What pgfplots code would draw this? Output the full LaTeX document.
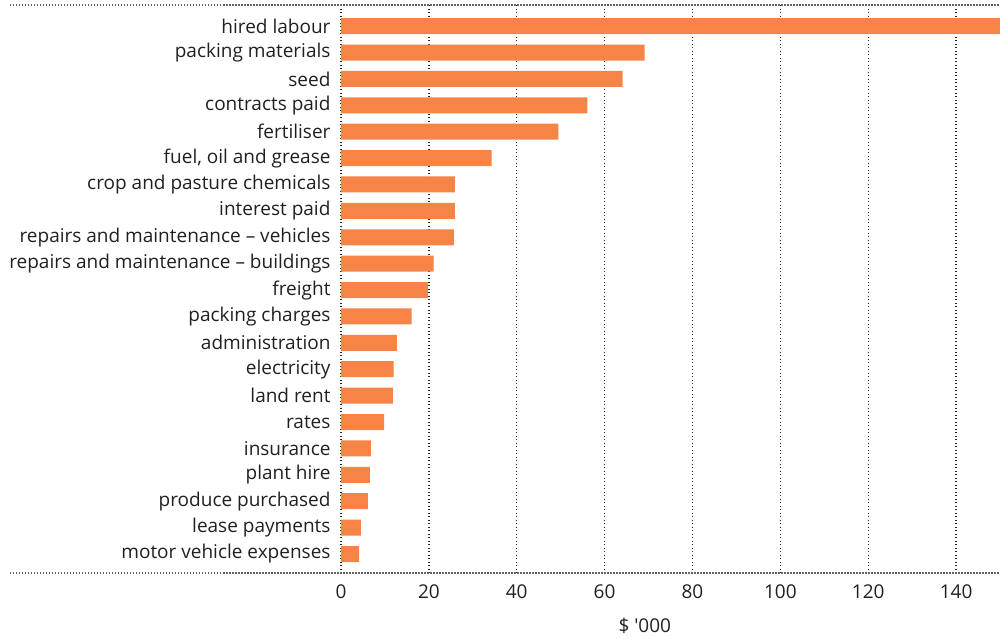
\documentclass[border=0pt]{standalone}
\usepackage{fontspec}
\setmainfont{Open Sans}
\newfontfamily\rawfont{Open Sans}[Ligatures=TeXOff]
\usepackage{pgfplots}
\pgfplotsset{compat=1.18}
\definecolor{barc}{HTML}{F58446}
\definecolor{txt}{HTML}{231F20}
\begin{document}
\fontsize{19pt}{22pt}\selectfont
\begin{tikzpicture}
\begin{axis}[
  name=ax,
  at={(0,0)}, anchor=south west,
  scale only axis,
  width=659pt, height=568pt,
  xbar, bar width=16pt,
  xmin=0, xmax=150,
  ymin=-0.8, ymax=20.72,
  y dir=reverse,
  xtick={0,20,...,140},
  ytick={0,...,20},
  yticklabels={hired labour,packing materials,seed,contracts paid,fertiliser,{fuel, oil and grease},crop and pasture chemicals,interest paid,repairs and maintenance -- vehicles,repairs and maintenance -- buildings,freight,packing charges,administration,electricity,land rent,rates,insurance,plant hire,produce purchased,lease payments,motor vehicle expenses},
  major tick length=0pt,
  axis line style={draw=none},
  xmajorgrids,
  grid style={black!85, line width=1.3pt, dash pattern=on 1.3pt off 2.2pt},
  tick label style={text=txt, font=\fontsize{19pt}{22pt}\selectfont},
  /pgf/number format/assume math mode=true,
  yticklabel style={anchor=east, xshift=-4pt},
  xticklabel style={anchor=north, yshift=-5pt},
  xlabel={{\rawfont \$ '000}},
  xlabel style={at={(rel axis cs:0.461,0)}, anchor=north, yshift=-39pt, text=txt, font=\fontsize{19pt}{22pt}\selectfont},
  clip=false,
]
\addplot[fill=barc, draw=none] coordinates {
(150,0) (69.1,1) (64.1,2) (56.1,3) (49.5,4) (34.3,5) (25.9,6) (25.9,7) (25.7,8) (21.1,9) (19.8,10) (16.1,11) (12.7,12) (12.0,13) (11.8,14) (9.8,15) (6.8,16) (6.6,17) (6.1,18) (4.5,19) (4.1,20)
};
\end{axis}
\draw[black!60, line width=1.4pt, dash pattern=on 1.5pt off 1.5pt] (-331pt,0) -- (659pt,0);
\draw[black!60, line width=1.4pt, dash pattern=on 1.5pt off 1.5pt] (-331pt,568pt) -- (659pt,568pt);
\pgfresetboundingbox
\path (-341pt,-65pt) rectangle (659pt,573pt);
\end{tikzpicture}
\end{document}
